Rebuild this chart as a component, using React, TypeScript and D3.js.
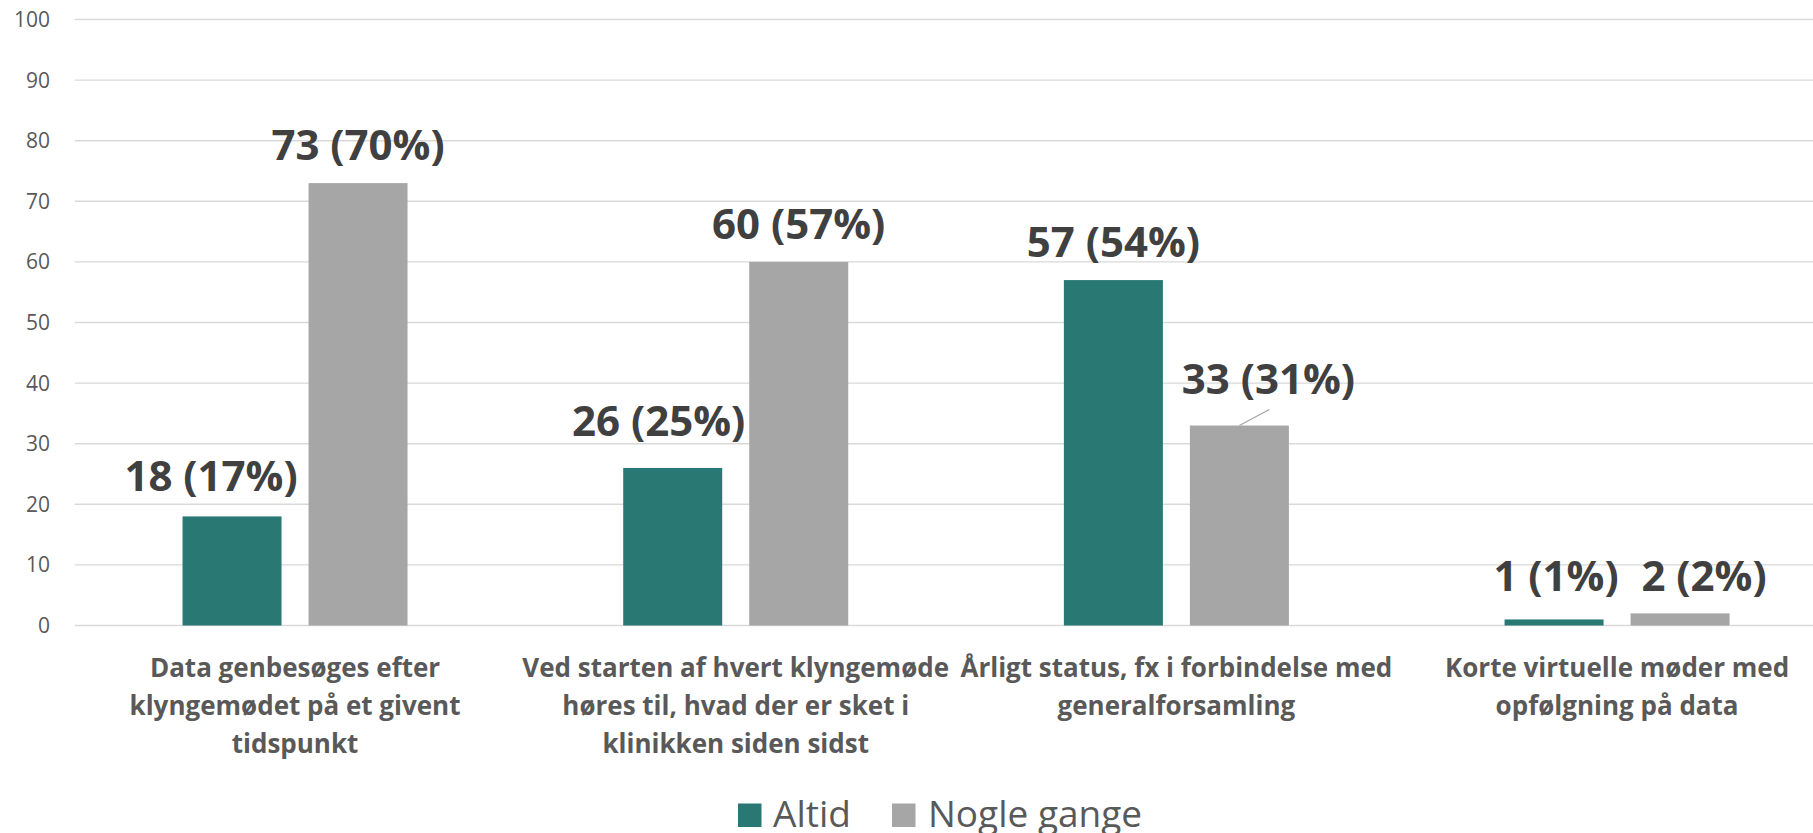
import React from "react";
import * as d3 from "d3";

const categories = [
  "Data genbesøges efter klyngemødet på et givent tidspunkt",
  "Ved starten af hvert klyngemøde høres til, hvad der er sket i klinikken siden sidst",
  "Årligt status, fx i forbindelse med generalforsamling",
  "Korte virtuelle møder med opfølgning på data",
];
const categoryLines = [
  ["Data genbesøges efter", "klyngemødet på et givent", "tidspunkt"],
  ["Ved starten af hvert klyngemøde", "høres til, hvad der er sket i", "klinikken siden sidst"],
  ["Årligt status, fx i forbindelse med", "generalforsamling"],
  ["Korte virtuelle møder med", "opfølgning på data"],
];
const seriesNames = ["Altid", "Nogle gange"];
const altidValues = [18, 26, 57, 1];
const nogleValues = [73, 60, 33, 2];
const altidPct = [17, 25, 54, 1];
const noglePct = [70, 57, 31, 2];
const yTicks = [0, 10, 20, 30, 40, 50, 60, 70, 80, 90, 100];
const colors = ["#2a7873", "#a6a6a6"];
// manual label nudges [dx, dy] per series per category
const altidLabelNudge = [[-21, -2], [-14, -9], [0, 0], [2, -5]];
const nogleLabelNudge = [[0, 0], [0, 0], [29, -9], [24, 1]];
const nogleLeader = [false, false, true, false];

const W = 1813;
const H = 833;
const FONT = "'Open Sans', 'Noto Sans', sans-serif";

export default function App() {
  const x0 = d3.scaleBand<string>().domain(categories).range([74.7, 1837.4]).padding(0);
  const groupW = 225;
  const x1 = d3.scaleBand<string>().domain(seriesNames).range([0, groupW]).paddingInner(2 - 225 / 126).paddingOuter(0);
  const y = d3.scaleLinear().domain([0, 100]).range([625.5, 19.5]);
  const groupOffset = (x0.bandwidth() - groupW) / 2;

  const series = [
    { name: seriesNames[0], values: altidValues, pct: altidPct, nudge: altidLabelNudge, leader: [false, false, false, false] },
    { name: seriesNames[1], values: nogleValues, pct: noglePct, nudge: nogleLabelNudge, leader: nogleLeader },
  ];

  return (
    <svg width={W} height={H} style={{ position: "absolute", left: 0, top: 0, background: "#fff" }}>
      <rect x={0} y={0} width={W} height={H} fill="#fff" />
      {yTicks.map((t) => (
        <g key={t}>
          <line x1={x0.range()[0]} x2={x0.range()[1]} y1={y(t)} y2={y(t)} stroke="#d9d9d9" strokeWidth={1.4} />
          <text x={50} y={y(t) + 7.5} textAnchor="end" fontFamily={FONT} fontSize={21} fill="#595959">
            {t}
          </text>
        </g>
      ))}
      {series.map((s, si) => (
        <g key={s.name}>
          {categories.map((c, ci) => {
            const bx = (x0(c) as number) + groupOffset + (x1(s.name) as number);
            const bw = x1.bandwidth();
            const top = y(s.values[ci]);
            return (
              <rect key={c} x={bx} y={top} width={bw} height={y(0) - top} fill={colors[si]} />
            );
          })}
        </g>
      ))}
      {series.map((s, si) => (
        <g key={s.name + "lbl"}>
          {categories.map((c, ci) => {
            const bx = (x0(c) as number) + groupOffset + (x1(s.name) as number);
            const cx = bx + x1.bandwidth() / 2;
            const top = y(s.values[ci]);
            const [dx, dy] = s.nudge[ci];
            return (
              <g key={c}>
                {s.leader[ci] && (
                  <line x1={cx} y1={top} x2={cx + 30} y2={top - 16} stroke="#a6a6a6" strokeWidth={1.3} />
                )}
                <text
                  x={cx + dx}
                  y={top - 23 + dy}
                  textAnchor="middle"
                  fontFamily={FONT}
                  fontWeight={700}
                  fontSize={42}
                  fill="#404040"
                >
                  {`${s.values[ci]} (${s.pct[ci]}%)`}
                </text>
              </g>
            );
          })}
        </g>
      ))}
      {categories.map((c, ci) => {
        const cx = (x0(c) as number) + x0.bandwidth() / 2;
        return (
          <text key={c} textAnchor="middle" fontFamily={FONT} fontWeight={700} fontSize={26} fill="#595959">
            {categoryLines[ci].map((ln, li) => (
              <tspan key={li} x={cx} y={677 + li * 38}>
                {ln}
              </tspan>
            ))}
          </text>
        );
      })}
      <g>
        <rect x={738} y={803.5} width={23.5} height={23.5} fill={colors[0]} />
        <text x={773} y={826.5} fontFamily={FONT} fontSize={37} fill="#595959">
          {seriesNames[0]}
        </text>
        <rect x={892} y={803.5} width={23.5} height={23.5} fill={colors[1]} />
        <text x={928} y={826.5} fontFamily={FONT} fontSize={37} fill="#595959">
          {seriesNames[1]}
        </text>
      </g>
    </svg>
  );
}
